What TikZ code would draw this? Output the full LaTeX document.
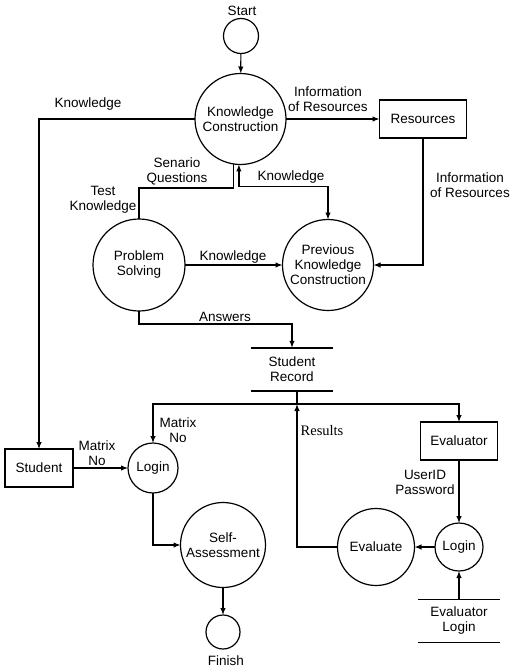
\documentclass[tikz,border=0pt]{standalone}
\usepackage{fontspec}
\setmainfont{Liberation Sans}
\newfontfamily\serifresults{Liberation Serif}
\usepackage{tikz}
\usetikzlibrary{positioning,arrows.meta}

\begin{document}
\begin{tikzpicture}[x=1pt,y=-1pt]
  \tikzset{ProcessStyle/.style = {
    shape         = circle,
    draw          = black,
    line width    = 1.2pt,
    text          = black,
    inner sep     = 0pt,
    outer sep     = 0pt,
    align         = center,
    font          = \fontsize{13.5}{15}\selectfont
    }
  }
  \tikzset{EntityStyle/.style = {
    shape         = rectangle,
    draw          = black,
    line width    = 1.2pt,
    text          = black,
    inner sep     = 0pt,
    outer sep     = 0pt,
    font          = \fontsize{13.5}{15}\selectfont
    }
  }
  \tikzset{StoreStyle/.style = {
    shape         = rectangle,
    minimum width = 82pt,
    minimum height= 43pt,
    inner sep     = 0pt,
    align         = center,
    font          = \fontsize{13.5}{15}\selectfont
    }
  }
  \tikzset{FlowStyle/.style = {
    draw          = black,
    line width    = 1.2pt,
    -{Latex[length=7pt,width=5.5pt]}
    }
  }
  \tikzset{LabelStyle/.style = {
    inner sep     = 0pt,
    align         = center,
    font          = \fontsize{13.5}{15}\selectfont
    }
  }
  \useasboundingbox (0,0) rectangle (514,670);

	% processes and entities
	\node[ProcessStyle, minimum size=35pt](St) at (241,36) {};
	\node[ProcessStyle, minimum size=91pt](KC) at (240.5,119) {Knowledge\\Construction};
	\node[EntityStyle, minimum width=87pt, minimum height=38pt](Res) at (423,119) {Resources};
	\node[ProcessStyle, minimum size=92pt](PS) at (139,265) {Problem\\Solving};
	\node[ProcessStyle, minimum size=91pt](PKC) at (328,265) {Previous\\Knowledge\\Construction};
	\node[StoreStyle](SR) at (292,369.5) {Student\\Record};
	\node[EntityStyle, minimum width=68pt, minimum height=38pt](Stu) at (39,468) {Student};
	\node[ProcessStyle, minimum size=50pt](LogS) at (153,468) {Login};
	\node[ProcessStyle, minimum size=85pt](SA) at (223,545) {Self-\\Assessment};
	\node[ProcessStyle, minimum size=34pt](Fin) at (223,632) {};
	\node[EntityStyle, minimum width=77pt, minimum height=38pt](Evr) at (459,441) {Evaluator};
	\node[ProcessStyle, minimum size=48pt](LogE) at (459,547) {Login};
	\node[ProcessStyle, minimum size=77pt](Evl) at (376,547) {Evaluate};
	\node[StoreStyle](EL) at (459,621) {Evaluator\\Login};
	\coordinate (J) at (297,404);

	\draw[line width=1.5pt] (SR.north west) -- (SR.north east);
	\draw[line width=1.5pt] (SR.south west) -- (SR.south east);
	\draw[line width=1.5pt] (EL.north west) -- (EL.north east);
	\draw[line width=1.5pt] (EL.south west) -- (EL.south east);

	% flows
	\draw[FlowStyle](St) to (KC);
	\draw[FlowStyle](KC.east) to (Res.west);
	\draw[FlowStyle](KC.west) -| (Stu.north);
	\draw[line width=1.2pt](PS.north) -- ++(0,-31) -| (KC.261);
	\draw[FlowStyle, {Latex[length=7pt,width=5.5pt]}-{Latex[length=7pt,width=5.5pt]}](KC.268) -- ++(0,22) -| (PKC.north);
	\draw[FlowStyle](PS.east) to (PKC.west);
	\draw[FlowStyle](Res.south) |- (PKC.east);
	\draw[FlowStyle](PS.south) -- ++(0,13) -| (SR.north);
	\draw[line width=1.2pt](SR.south -| J) -- (J);
	\draw[FlowStyle](J) -| (LogS.north);
	\draw[FlowStyle](J) -| (Evr.north);
	\draw[FlowStyle](Evl.west) -| (J);
	\draw[FlowStyle](Stu.east) to (LogS.west);
	\draw[FlowStyle](LogS.south) |- (SA.west);
	\draw[FlowStyle](SA.south) to (Fin.north);
	\draw[FlowStyle](Evr.south) to (LogE.north);
	\draw[FlowStyle](LogE.west) to (Evl.east);
	\draw[FlowStyle](EL.north) to (LogE.south);

	% labels
	\node[LabelStyle](tStart) at (242,11) {Start};
	\node[LabelStyle](tFinish) at (226,661) {Finish};
	\node[LabelStyle](tInfoA) at (328,99) {Information\\of Resources};
	\node[LabelStyle](tKnowA) at (88,104) {Knowledge};
	\node[LabelStyle](tSenario) at (177,171) {Senario\\Questions};
	\node[LabelStyle](tTest) at (103,200) {Test\\Knowledge};
	\node[LabelStyle](tKnowB) at (291,177) {Knowledge};
	\node[LabelStyle](tInfoB) at (470,185) {Information\\of Resources};
	\node[LabelStyle](tKnowC) at (233,257) {Knowledge};
	\node[LabelStyle](tAnswers) at (225,317) {Answers};
	\node[LabelStyle](tMatrixA) at (97,453) {Matrix\\No};
	\node[LabelStyle](tMatrixB) at (178,430) {Matrix\\No};
	\node[LabelStyle, font=\serifresults\fontsize{14.5}{16}\selectfont](tResults) at (322,431) {Results};
	\node[LabelStyle](tUser) at (425,482) {UserID\\Password};

  \end{tikzpicture}
\end{document}
